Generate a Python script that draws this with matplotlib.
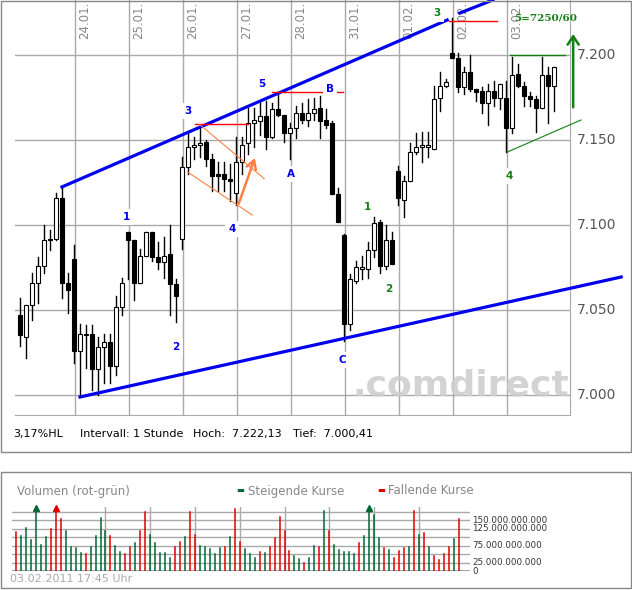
import numpy as np
import matplotlib
matplotlib.use("Agg")
import matplotlib.pyplot as plt
from matplotlib.patches import Rectangle

# hourly candles: open, high, low, close
opens = [7047, 7034, 7053, 7066, 7076, 7091, 7092, 7116, 7066, 7080,
         7026, 7035, 7036, 7015, 7028, 7031, 7017, 7052, 7096, 7091,
         7066, 7082, 7096, 7081, 7078, 7083, 7065, 7092, 7134, 7146,
         7147, 7149, 7139, 7130, 7130, 7127, 7119, 7137, 7148, 7160,
         7161, 7164, 7152, 7168, 7165, 7154, 7157, 7166, 7162, 7166,
         7169, 7162, 7160, 7118, 7094, 7042, 7067, 7074, 7074, 7085,
         7102, 7076, 7091, 7132, 7115, 7126, 7143, 7146, 7146, 7145,
         7175, 7182, 7201, 7198, 7181, 7190, 7180, 7179, 7172, 7179,
         7175, 7175, 7157, 7189, 7182, 7176, 7174, 7169, 7188, 7182]
highs = [7057, 7053, 7072, 7081, 7100, 7097, 7119, 7122, 7072, 7088,
         7042, 7041, 7041, 7034, 7036, 7036, 7058, 7069, 7096, 7091,
         7086, 7096, 7096, 7090, 7093, 7100, 7068, 7140, 7154, 7152,
         7157, 7150, 7142, 7137, 7137, 7136, 7152, 7152, 7169, 7169,
         7173, 7173, 7172, 7178, 7165, 7160, 7170, 7172, 7174, 7175,
         7176, 7168, 7161, 7122, 7095, 7071, 7079, 7082, 7090, 7105,
         7103, 7100, 7096, 7135, 7129, 7148, 7154, 7155, 7155, 7182,
         7190, 7186, 7222, 7201, 7193, 7200, 7180, 7181, 7183, 7185,
         7183, 7185, 7199, 7195, 7184, 7178, 7176, 7199, 7193, 7193]
lows = [7029, 7022, 7044, 7054, 7072, 7085, 7091, 7057, 7048, 7019,
        7000, 7016, 7003, 7000, 7007, 7007, 7012, 7047, 7068, 7056,
        7066, 7082, 7079, 7074, 7069, 7047, 7043, 7086, 7130, 7139,
        7140, 7135, 7120, 7120, 7120, 7114, 7112, 7130, 7142, 7146,
        7153, 7145, 7151, 7164, 7149, 7139, 7151, 7160, 7158, 7162,
        7151, 7157, 7118, 7102, 7032, 7038, 7066, 7068, 7069, 7081,
        7072, 7074, 7077, 7112, 7105, 7126, 7142, 7137, 7140, 7145,
        7167, 7181, 7198, 7178, 7177, 7179, 7173, 7166, 7159, 7170,
        7168, 7143, 7154, 7181, 7170, 7170, 7155, 7169, 7160, 7167]
closes = [7035, 7053, 7066, 7076, 7091, 7092, 7116, 7066, 7062, 7026,
          7036, 7036, 7015, 7028, 7031, 7017, 7052, 7066, 7091, 7066,
          7082, 7096, 7081, 7078, 7082, 7065, 7058, 7134, 7146, 7147,
          7148, 7139, 7129, 7129, 7127, 7126, 7137, 7147, 7160, 7162,
          7164, 7152, 7168, 7165, 7154, 7157, 7166, 7162, 7166, 7168,
          7161, 7159, 7118, 7102, 7042, 7068, 7075, 7075, 7085, 7101,
          7076, 7091, 7077, 7116, 7126, 7143, 7146, 7147, 7147, 7174,
          7182, 7184, 7198, 7181, 7190, 7180, 7178, 7172, 7179, 7175,
          7183, 7157, 7188, 7182, 7176, 7174, 7169, 7188, 7182, 7193]

# volume in millions, 'g' rising / 'r' falling
volumes = [117, 105, 127, 93, 200, 78, 102, 126, 200, 153,
           120, 70, 67, 53, 49, 70, 105, 158, 120, 105,
           75, 55, 49, 72, 84, 120, 175, 108, 82, 53,
           53, 40, 72, 87, 102, 175, 108, 75, 72, 64,
           49, 67, 72, 102, 185, 87, 64, 49, 40, 55,
           52, 70, 99, 160, 120, 58, 46, 37, 25, 40,
           75, 72, 178, 120, 78, 61, 55, 55, 49, 84,
           105, 200, 167, 99, 67, 61, 40, 58, 67, 70,
           178, 108, 114, 72, 46, 34, 49, 72, 96, 153]
vol_colors = "rgggggg" "rrrgggg" "rggggrg" "grrgrrg" "ggggrrg" "rrgggggr" \
             "grrgggrgrrrrrggrggrgrgggggrggggrgrrrgrgrgrrrrgrg"
day_labels = ["24.01.", "25.01.", "26.01.", "27.01.", "28.01.",
              "31.01.", "01.02.", "02.02.", "03.02."]
price_ticks = [7000, 7050, 7100, 7150, 7200]
vol_ticks = [0, 25, 75, 125, 150]

W, H = 632, 590
fig = plt.figure(figsize=(W / 100, H / 100), dpi=100)
GRID = "#aaaaaa"
BLUE = "#0000ee"
GREEN = "#138013"

def fax(l, t, w, h):
    return fig.add_axes([l / W, 1 - (t + h) / H, w / W, h / H])

# outer frames
fig.add_artist(Rectangle((0.5 / W, 1 - 452 / H), 630.5 / W, 451.5 / H,
                         transform=fig.transFigure, fill=False, ec="#888888", lw=1))
fig.add_artist(Rectangle((0.5 / W, 1 - 588 / H), 630.5 / W, 116 / H,
                         transform=fig.transFigure, fill=False, ec="#888888", lw=1))

# ---- price panel
ax = fax(15, 0, 555, 415)
ax.set_xlim(-0.83, 91.67)
ax.set_ylim(6988.2, 7232.4)
for s in ["left", "top"]:
    ax.spines[s].set_visible(False)
for s in ["right", "bottom"]:
    ax.spines[s].set_color(GRID)
ax.set_xticks([])
ax.set_yticks([])
for p in price_ticks:
    ax.axhline(p, color=GRID, lw=1, zorder=0)
    ax.text(92.8, p, f"{p / 1000:.3f}", color="#555555", fontsize=10, va="center", ha="left")
day_pos = [9.17 + 9 * k for k in range(len(day_labels))]
for d, lab in zip(day_pos, day_labels):
    ax.axvline(d, color=GRID, lw=1, zorder=0)
    ax.text(d + 0.5, 7231.5, lab, rotation=90, color="#888888", fontsize=8.5, va="top", ha="left")

ax.text(73.5, 6995.5, ".comdirect", color="#cccccc", fontsize=26, fontweight="bold",
        ha="center", va="bottom", zorder=2, alpha=0.85)

for i, (o, h, l, c) in enumerate(zip(opens, highs, lows, closes)):
    ax.plot([i, i], [l, h], color="black", lw=1, zorder=3)
    up = c >= o
    ax.add_patch(Rectangle((i - 0.3, min(o, c)), 0.6, max(abs(c - o), 0.8),
                           fc="white" if up else "black", ec="black", lw=0.8, zorder=4))

# channel lines
ax.plot([7, 71.2], [7122.4, 7220.6], color=BLUE, lw=2.3, zorder=5)
ax.plot([73.3, 78.8], [7224.7, 7232.4], color=BLUE, lw=2.3, zorder=5)
ax.plot([10, 100.2], [6998.8, 7069.4], color=BLUE, lw=2.3, zorder=5, clip_on=False)
# red resistance lines
ax.plot([29.2, 38], [7159.4, 7159.4], color="red", lw=1, zorder=5)
ax.plot([42, 53.8], [7178.2, 7178.2], color="red", lw=1, zorder=5)
ax.plot([71.5, 79.5], [7220.2, 7220.2], color="red", lw=1, zorder=5)
# green triangle / target
ax.plot([81.7, 90.8], [7199.8, 7199.8], color=GREEN, lw=1, zorder=5)
ax.plot([81.2, 93.5], [7142.9, 7161.8], color=GREEN, lw=0.8, zorder=5, clip_on=False)
ax.annotate("", xy=(92.2, 7214), xytext=(92.2, 7167.6), annotation_clip=False,
            arrowprops=dict(arrowstyle="->,head_length=0.6,head_width=0.4", color=GREEN, lw=1.8))
ax.text(87.6, 7222, "5=7250/60", color=GREEN, fontsize=7.5, fontweight="bold",
        family="DejaVu Serif", ha="center", va="center")
# orange flag
ORANGE = "#ff8040"
ax.plot([30, 40.7], [7159, 7127.3], color=ORANGE, lw=0.8, zorder=5)
ax.plot([28, 38.7], [7131, 7105.9], color=ORANGE, lw=0.8, zorder=5)
ax.annotate("", xy=(39.3, 7141), xytext=(36.3, 7111), zorder=6,
            arrowprops=dict(arrowstyle="->,head_length=0.6,head_width=0.35", color=ORANGE, lw=1.8))

wave_labels = [("1", 126, 217, BLUE), ("2", 176, 347, BLUE), ("3", 188, 111, BLUE),
               ("4", 232, 229, BLUE), ("5", 262, 84, BLUE), ("A", 291, 174, BLUE),
               ("B", 330, 89, BLUE), ("C", 342, 360, BLUE),
               ("1", 367, 207, GREEN), ("2", 389, 289, GREEN), ("3", 437, 13, GREEN),
               ("4", 509, 176, GREEN)]
for t, px, py, col in wave_labels:
    ax.text((px - 20) / 6, 7200 - (py - 55) / 1.7, t, color=col, fontsize=7.5,
            fontweight="bold", ha="center", va="center", zorder=7,
            bbox=dict(fc="white", ec="none", pad=2.5))

# info row
for txt, px in [("3,17%HL", 13), ("Intervall: 1 Stunde", 80), ("Hoch:  7.222,13", 193),
                ("Tief:  7.000,41", 293)]:
    fig.text(px / W, 1 - 434 / H, txt, fontsize=8, va="center", ha="left")

# ---- volume panel
vx = fax(12, 507, 458, 64)
vx.set_xlim(-0.8, 91.3)
vx.set_ylim(0, 190)
vx.set_xticks([])
vx.set_yticks([])
for s in vx.spines.values():
    s.set_visible(False)
for g in range(25, 200, 25):
    vx.axhline(g, color=GRID, lw=1, zorder=0)
vx.axhline(0, color="#999999", lw=2, zorder=0)
for k in range(2, 10):
    vx.axvline(9 * k, color=GRID, lw=1, zorder=0)
for i, (v, c) in enumerate(zip(volumes, vol_colors)):
    col = "#006633" if c == "g" else "#dd0000"
    vx.plot([i, i], [0, min(v, 187)], color=col, lw=1.1, zorder=3)
    if v > 187:
        vx.plot(i, 187, marker="^", color=col, ms=4, zorder=4, clip_on=False)
for t in vol_ticks:
    lab = "0" if t == 0 else f"{t}.000.000.000"
    vx.text(91.8, t, lab, fontsize=6.3, va="center", ha="left", color="#333333")

fig.text(17 / W, 1 - 491 / H, "Volumen (rot-grün)", fontsize=8.5, color="#888888", va="center")
fig.text(236 / W, 1 - 491 / H, "\u25ac", fontsize=6, color="#006633", va="center")
fig.text(248 / W, 1 - 491 / H, "Steigende Kurse", fontsize=8.5, color="#888888", va="center")
fig.text(377 / W, 1 - 491 / H, "\u25ac", fontsize=6, color="#dd0000", va="center")
fig.text(388 / W, 1 - 491 / H, "Fallende Kurse", fontsize=8.5, color="#888888", va="center")
fig.text(10 / W, 1 - 579 / H, "03.02.2011 17:45 Uhr", fontsize=8, color="#aaaaaa", va="center")

fig.savefig("out.png", dpi=100)
